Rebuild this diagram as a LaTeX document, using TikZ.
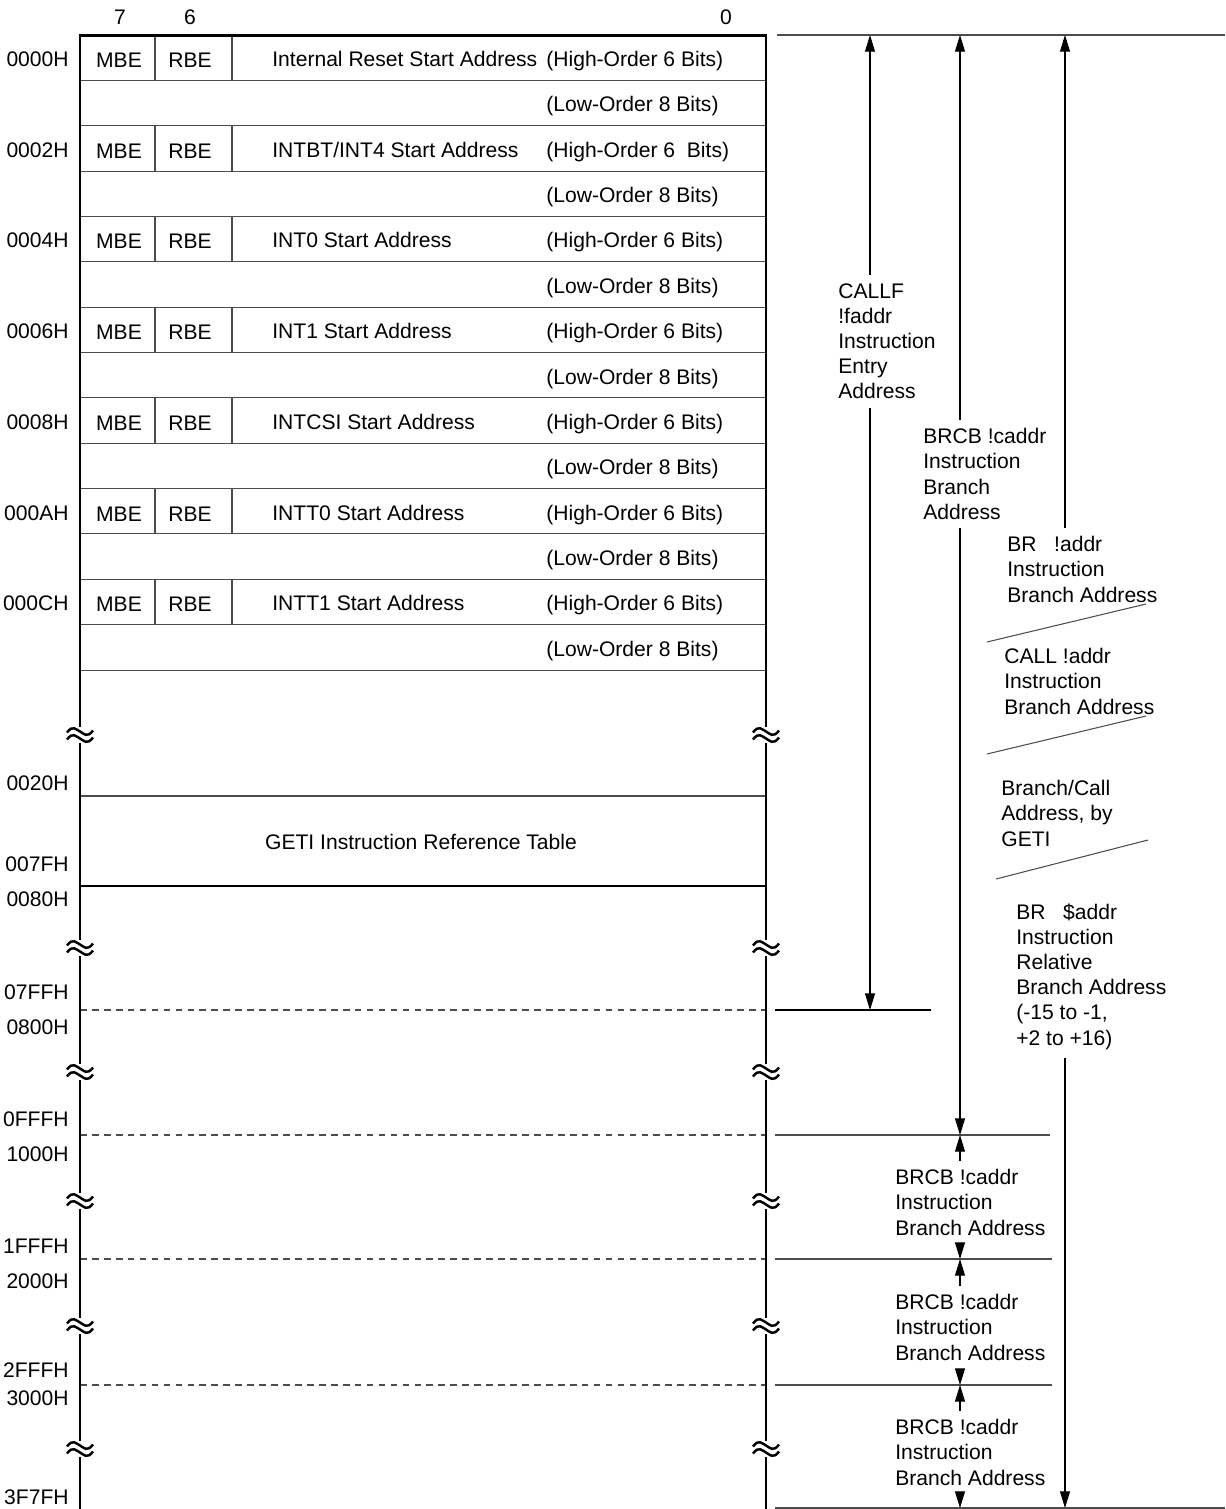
\documentclass[tikz,border=0pt]{standalone}
\usepackage{fontspec}
\setmainfont{Liberation Sans}
\usetikzlibrary{arrows.meta,positioning}

\tikzset{
  txt/.style={inner sep=0pt, font=\fontsize{12}{14.35}\selectfont},
  addr/.style={txt, anchor=base east},
  cell/.style={txt, anchor=base west},
  note/.style={txt, align=left, anchor=north west, outer ysep=5pt},
  wall/.style={line width=1.7pt},
  rule/.style={line width=0.6pt, black!70},
  dashrule/.style={rule, dash pattern=on 3.8pt off 3pt},
  arr/.style={line width=0.6pt, -{Triangle[length=9.5pt,width=5.7pt]}},
  brk/.pic={\foreach \dy in {-3.5,3.5}
    \draw[line width=1.4pt] (-13,\dy+1) .. controls (-7,\dy-7) and (-4,\dy-2) .. (0,\dy)
      .. controls (4,\dy+2) and (7,\dy+7) .. (13,\dy-1);}
}

\begin{document}
\begin{tikzpicture}[x=0.02cm, y=-0.02cm]
  \useasboundingbox (0,0) rectangle (1225,1509);
  % bit numbers
  \node[txt, anchor=base] (b7) at (120,24.6) {7};
  \node[txt, anchor=base] (b6) at (190,24.6) {6};
  \node[txt, anchor=base] (b0) at (726,24.6) {0};
  % vector table, one high and one low row per entry
  \foreach [count=\i from 0] \a/\lab/\hib in {
      0000H/Internal Reset Start Address/{(High-Order 6 Bits)},
      0002H/{INTBT/INT4 Start Address}/{(High-Order 6\ \ Bits)},
      0004H/INT0 Start Address/{(High-Order 6 Bits)},
      0006H/INT1 Start Address/{(High-Order 6 Bits)},
      0008H/INTCSI Start Address/{(High-Order 6 Bits)},
      000AH/INTT0 Start Address/{(High-Order 6 Bits)},
      000CH/INTT1 Start Address/{(High-Order 6 Bits)}} {
    \pgfmathsetmacro\yt{35+2*\i*45.36}
    \pgfmathsetmacro\yb{\yt+45.36}
    \node[addr] (a\i) at (69,\yt+31.5) {\a};
    \node[txt, anchor=base] (m\i) at (119,\yt+32.5) {MBE};
    \node[txt, anchor=base] (r\i) at (190,\yt+32.5) {RBE};
    \node[cell] (n\i) at (272,\yt+31.5) {\lab};
    \node[cell] (h\i) at (546,\yt+31.5) {\hib};
    \node[cell] (l\i) at (546,\yb+31.5) {(Low-Order 8 Bits)};
    \draw[rule] (155,\yt) -- (155,\yb) (232,\yt) -- (232,\yb);
    \draw[rule] (80,\yb) -- (766,\yb) (80,\yb+45.36) -- (766,\yb+45.36);
  }
  % rest of the map
  \foreach \a/\y in {0020H/790,007FH/871.6,0080H/906.6,07FFH/999.6,0800H/1034.6,
      0FFFH/1126.6,1000H/1161.6,1FFFH/1253.6,2000H/1288.6,2FFFH/1377.6,
      3000H/1405.6,3F7FH/1504.6}
    \node[addr] (ad\a) at (69,\y) {\a};
  \draw[rule] (80,796) -- (766,796);
  \draw[rule, black] (80,886) -- (766,886);
  \node[txt, anchor=base] (geti) at (421,849.6) {GETI Instruction Reference Table};
  \foreach \y in {1010,1135,1259,1385}
    \draw[dashrule] (80,\y) -- (766,\y);
  % walls with break marks
  \draw[wall] (80,1509) -- (80,35) -- (766,35) -- (766,1509);
  \foreach \y in {735,948,1072,1201,1326,1449} {
    \fill[white] (70,\y-8) rectangle (90,\y+8);
    \fill[white] (756,\y-8) rectangle (776,\y+8);
    \pic at (80,\y) {brk};
    \pic at (766,\y) {brk};
  }
  % boundaries on the right
  \draw[rule] (777,35) -- (1225,35);
  \draw[rule, black] (775,1010) -- (931,1010);
  \draw[rule] (775,1135) -- (1050,1135);
  \draw[rule] (775,1259) -- (1052,1259);
  \draw[rule] (775,1385) -- (1052,1385);
  \draw[rule] (775,1508) -- (1225,1508);
  \draw[rule] (987,642) -- (1146,604);
  \draw[rule] (987,754) -- (1146,716);
  \draw[rule] (996,879) -- (1148,840);
  \coordinate (cf0) at (870,35);  \coordinate (cf1) at (870,1010);
  \coordinate (cb0) at (960,35);  \coordinate (cb1) at (960,1135);
  \coordinate (ba0) at (1065,35); \coordinate (ba1) at (1065,1508);
  \coordinate (s1) at (960,1135); \coordinate (s2) at (960,1259);
  \coordinate (s3) at (960,1385); \coordinate (s4) at (960,1508);
  % range labels
  \node[note] (callf) at (838,274.6) {CALLF\\!faddr\\Instruction\\Entry\\Address};
  \node[note] (brcb) at (923,419.6) {BRCB !caddr\\Instruction\\Branch\\Address};
  \node[note] (bra) at (1007,527.6) {BR\ \ \ !addr\\Instruction\\Branch Address};
  \node[note] (call) at (1004,639.6) {CALL !addr\\Instruction\\Branch Address};
  \node[note] (bgeti) at (1001,771.6) {Branch/Call\\Address, by\\GETI};
  \node[note] (brrel) at (1016,894.6) {BR\ \ \ \$addr\\Instruction\\Relative\\Branch Address\\(-15 to -1,\\+2 to +16)};
  \foreach \i/\y in {1/1160.6,2/1285.6,3/1410.6}
    \node[note] (seg\i) at (895,\y) {BRCB !caddr\\Instruction\\Branch Address};
  % arrows
  \draw[arr] (callf.north -| cf0) -- (cf0);
  \draw[arr] (callf.south -| cf1) -- (cf1);
  \draw[arr] (brcb.north -| cb0) -- (cb0);
  \draw[arr] (brcb.south -| cb1) -- (cb1);
  \draw[arr] (bra.north -| ba0) -- (ba0);
  \draw[arr] (brrel.south -| ba1) -- (ba1);
  \foreach \i/\j in {1/2,2/3,3/4} {
    \draw[arr] (seg\i.north -| s\i) -- (s\i);
    \draw[arr] (seg\i.south -| s\j) -- (s\j);
  }
\end{tikzpicture}
\end{document}
